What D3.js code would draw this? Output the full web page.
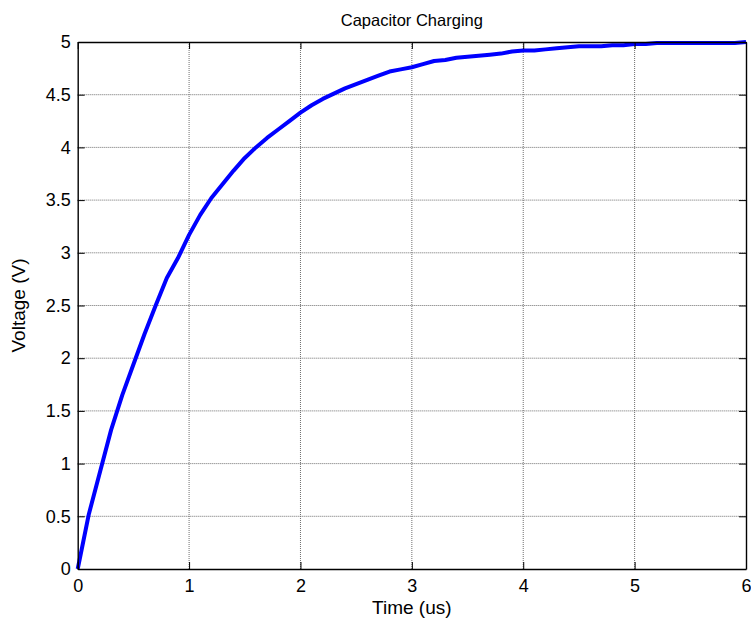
<!DOCTYPE html>
<html><head><meta charset="utf-8">
<script src="https://cdn.jsdelivr.net/npm/d3@7"></script>
<style>body{margin:0;background:#fff;}svg{display:block;font-family:"Liberation Sans",Arial,sans-serif;}</style>
</head><body>
<script>
const timeUs = [0,0.1,0.2,0.3,0.4,0.5,0.6,0.7,0.8,0.9,1.0,1.1,1.2,1.3,1.4,1.5,1.6,1.7,1.8,1.9,2.0,2.1,2.2,2.3,2.4,2.5,2.6,2.7,2.8,2.9,3.0,3.1,3.2,3.3,3.4,3.5,3.6,3.7,3.8,3.9,4.0,4.1,4.2,4.3,4.4,4.5,4.6,4.7,4.8,4.9,5.0,5.1,5.2,5.3,5.4,5.5,5.6,5.7,5.8,5.9,6.0];
const voltage = [0,0.52,0.92,1.32,1.65,1.94,2.23,2.50,2.76,2.95,3.17,3.36,3.52,3.65,3.78,3.90,4.00,4.09,4.17,4.25,4.33,4.40,4.46,4.51,4.56,4.60,4.64,4.68,4.72,4.74,4.76,4.79,4.82,4.83,4.85,4.86,4.87,4.88,4.89,4.91,4.92,4.92,4.93,4.94,4.95,4.96,4.96,4.96,4.97,4.97,4.98,4.98,4.99,4.99,4.99,4.99,4.99,4.99,4.99,4.99,5.0];
const xTicks = [0,1,2,3,4,5,6];
const yTicks = [0,0.5,1,1.5,2,2.5,3,3.5,4,4.5,5];
const yTickLabels = ["0","0.5","1","1.5","2","2.5","3","3.5","4","4.5","5"];
const titleText = "Capacitor Charging";
const xLabelText = "Time (us)";
const yLabelText = "Voltage (V)";

const W = 751, H = 627;
const L = 77.7, R = 746, T = 42, B = 569;
const svg = d3.select("body").append("svg").attr("width", W).attr("height", H);
const x = d3.scaleLinear().domain([0,6]).range([L,R]);
const y = d3.scaleLinear().domain([0,5]).range([B,T]);
const FF = '"Liberation Sans",Arial,sans-serif';

// grid
const g = svg.append("g");
g.selectAll("line.gx").data(xTicks.slice(1,-1)).join("line")
  .attr("x1", d=>x(d)).attr("x2", d=>x(d)).attr("y1", T).attr("y2", B)
  .attr("stroke", "#6e6e6e").attr("stroke-width", 1).attr("stroke-dasharray", "1,1");
g.selectAll("line.gy").data(yTicks.slice(1,-1)).join("line")
  .attr("x1", L).attr("x2", R).attr("y1", d=>y(d)).attr("y2", d=>y(d))
  .attr("stroke", "#6e6e6e").attr("stroke-width", 1).attr("stroke-dasharray", "1,1");

// curve
const line = d3.line().x((d,i)=>x(timeUs[i])).y(d=>y(d));
svg.append("path").datum(voltage).attr("d", line)
  .attr("fill","none").attr("stroke","#0000ff").attr("stroke-width",4)
  .attr("stroke-linejoin","round");

// axes
const tl = 7;
const xb = svg.append("g").attr("transform", `translate(0,${B})`)
  .call(d3.axisBottom(x).tickValues(xTicks).tickSize(-tl).tickPadding(10).tickSizeOuter(0).tickFormat(d3.format("d")));
const xt = svg.append("g").attr("transform", `translate(0,${T})`)
  .call(d3.axisTop(x).tickValues(xTicks).tickSize(-tl).tickSizeOuter(0).tickFormat(""));
const yl = svg.append("g").attr("transform", `translate(${L},0)`)
  .call(d3.axisLeft(y).tickValues(yTicks).tickSize(-tl).tickPadding(7).tickSizeOuter(0).tickFormat((d,i)=>yTickLabels[i]));
const yr = svg.append("g").attr("transform", `translate(${R},0)`)
  .call(d3.axisRight(y).tickValues(yTicks).tickSize(-tl).tickSizeOuter(0).tickFormat(""));
[xb,xt,yl,yr].forEach(a=>{
  a.select(".domain").attr("stroke","#000").attr("stroke-width",1.4);
  a.selectAll(".tick line").attr("stroke","#000");
  a.selectAll("text").attr("fill","#000").style("font-size","18px").style("font-family",FF);
});

svg.append("text").attr("x", (L+R)/2).attr("y", 26).attr("text-anchor","middle")
  .style("font-size","16.5px").text(titleText);
svg.append("text").attr("x", (L+R)/2).attr("y", 614).attr("text-anchor","middle")
  .style("font-size","19px").text(xLabelText);
svg.append("text").attr("transform", `translate(25,${(T+B)/2}) rotate(-90)`).attr("text-anchor","middle")
  .style("font-size","19px").text(yLabelText);
</script>
</body></html>
